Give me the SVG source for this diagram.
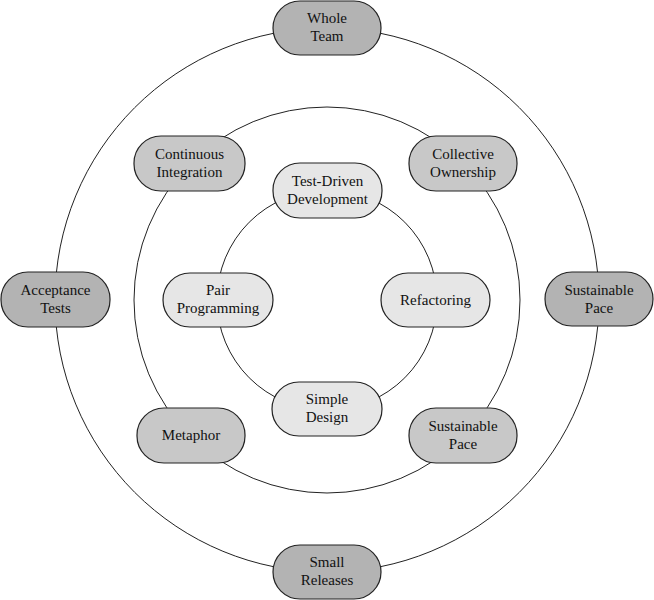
<svg xmlns="http://www.w3.org/2000/svg" width="654" height="600" viewBox="0 0 654 600">
<style>
.ring{fill:none;stroke:#222;stroke-width:1}
.n rect{stroke:#222;stroke-width:1.2}
.o rect{fill:#b3b3b3}
.m rect{fill:#c8c8c8}
.i rect{fill:#e6e6e6}
text{font-family:'Liberation Serif','DejaVu Serif',serif;font-size:15px;fill:#111;text-anchor:middle}
</style>
<rect width="654" height="600" fill="#fff"/>
<g id="connectors">
<circle class="ring" cx="327" cy="300" r="272"/>
<circle class="ring" cx="327" cy="300" r="193"/>
<circle class="ring" cx="327" cy="300" r="110"/>
</g>
<g font-family="Liberation Serif, serif">
<g id="whole-team" class="n o"><rect x="273" y="1" width="108" height="54" rx="27"/><text x="327" y="23">Whole</text><text x="327" y="41">Team</text></g>
<g id="acceptance-tests" class="n o"><rect x="1" y="272" width="109" height="55" rx="27"/><text x="55.5" y="295">Acceptance</text><text x="55.5" y="313">Tests</text></g>
<g id="sustainable-pace-outer" class="n o"><rect x="545" y="272" width="108" height="54" rx="27"/><text x="599" y="295">Sustainable</text><text x="599" y="313">Pace</text></g>
<g id="small-releases" class="n o"><rect x="273" y="545" width="108" height="54" rx="27"/><text x="327" y="567">Small</text><text x="327" y="585">Releases</text></g>
<g id="continuous-integration" class="n m"><rect x="134" y="136" width="111" height="55" rx="27"/><text x="189.5" y="159">Continuous</text><text x="189.5" y="177">Integration</text></g>
<g id="collective-ownership" class="n m"><rect x="409" y="136" width="108" height="55" rx="27"/><text x="463" y="159">Collective</text><text x="463" y="177">Ownership</text></g>
<g id="metaphor" class="n m"><rect x="137" y="408" width="108" height="55" rx="27"/><text x="191" y="440">Metaphor</text></g>
<g id="sustainable-pace-middle" class="n m"><rect x="409" y="408" width="108" height="55" rx="27"/><text x="463" y="431">Sustainable</text><text x="463" y="449">Pace</text></g>
<g id="test-driven-development" class="n i"><rect x="273" y="163" width="109" height="55" rx="27"/><text x="327.5" y="186">Test-Driven</text><text x="327.5" y="204">Development</text></g>
<g id="pair-programming" class="n i"><rect x="163" y="273" width="110" height="54" rx="27"/><text x="218" y="295">Pair</text><text x="218" y="313">Programming</text></g>
<g id="refactoring" class="n i"><rect x="381" y="273" width="109" height="54" rx="27"/><text x="435.5" y="305">Refactoring</text></g>
<g id="simple-design" class="n i"><rect x="272" y="382" width="110" height="54" rx="27"/><text x="327" y="404">Simple</text><text x="327" y="422">Design</text></g>
</g>
</svg>
